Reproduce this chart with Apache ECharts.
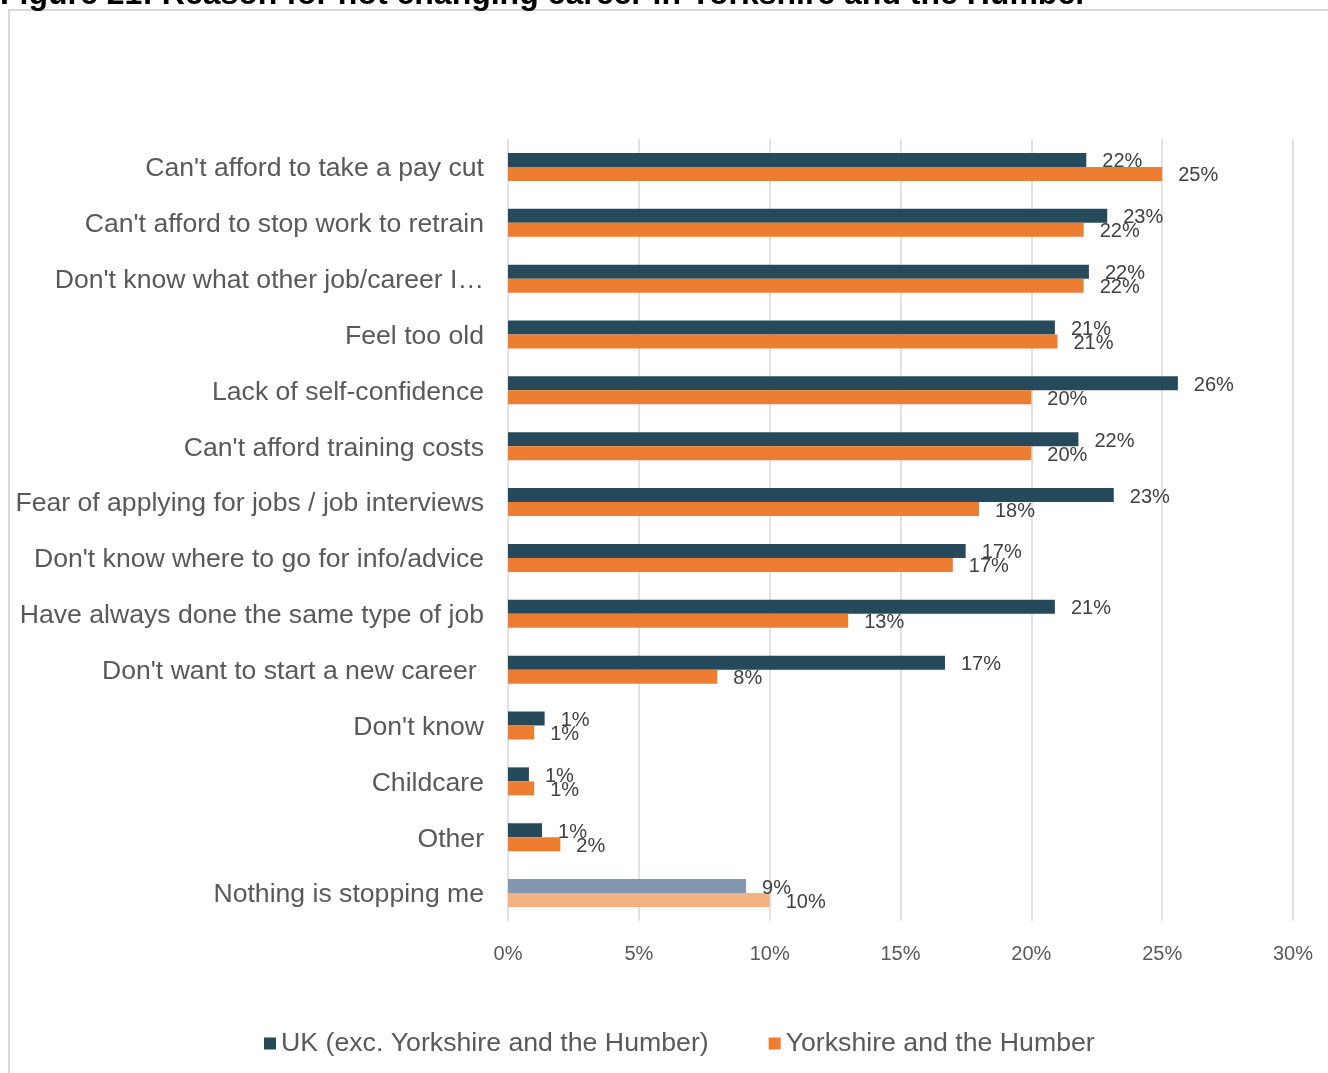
<!DOCTYPE html>
<html>
<head>
<meta charset="utf-8">
<script src="https://cdn.jsdelivr.net/npm/echarts@6/dist/echarts.min.js"></script>
<style>
html,body{margin:0;padding:0;background:#fff;}
#chart{width:1328px;height:1073px;}
</style>
</head>
<body>
<div id="chart"></div>
<script>
var titleText = 'Figure 21: Reason for not changing career in Yorkshire and the Humber';
var categories = [
  "Can't afford to take a pay cut",
  "Can't afford to stop work to retrain",
  "Don't know what other job/career I\u2026",
  "Feel too old",
  "Lack of self-confidence",
  "Can't afford training costs",
  "Fear of applying for jobs / job interviews",
  "Don't know where to go for info/advice",
  "Have always done the same type of job",
  "Don't want to start a new career ",
  "Don't know",
  "Childcare",
  "Other",
  "Nothing is stopping me"
];
var seriesNames = ['UK (exc. Yorkshire and the Humber)', 'Yorkshire and the Humber'];
var ukValues = [22.1, 22.9, 22.2, 20.9, 25.6, 21.8, 23.15, 17.49, 20.9, 16.7, 1.4, 0.8, 1.3, 9.1];
var yhValues = [25.0, 22.0, 22.0, 21.0, 20.0, 20.0, 18.0, 17.0, 13.0, 8.0, 1.0, 1.0, 2.0, 10.0];
var xTicks = [0, 5, 10, 15, 20, 25, 30];

var ukColor = '#264A59', yhColor = '#ED7D31';
var ukLight = '#8497B0', yhLight = '#F4B183';
var lastIdx = categories.length - 1;

function build(vals, light) {
  return vals.map(function (v, i) {
    return i === lastIdx ? {value: v, itemStyle: {color: light}} : v;
  });
}

var chart = echarts.init(document.getElementById('chart'));
var labelCfg = {
  show: true, position: 'right', distance: 16, offset: [0, 2],
  color: '#404040', fontSize: 20, fontFamily: 'Liberation Sans, Arial, sans-serif',
  formatter: function (p) { return Math.round(p.value) + '%'; }
};
chart.setOption({
  animation: false,
  textStyle: {fontFamily: 'Liberation Sans, Arial, sans-serif'},
  graphic: [
    {type: 'rect', shape: {x: 9, y: 10, width: 1340, height: 1080}, style: {fill: 'none', stroke: '#d9d9d9', lineWidth: 2}, silent: true, z: -1},
    {type: 'text', left: 0, top: -21, style: {text: titleText, fill: '#000', font: 'bold 32px "Liberation Sans", Arial, sans-serif'}}
  ],
  legend: {
    data: seriesNames,
    bottom: 11, left: 259,
    itemWidth: 12, itemHeight: 12, itemGap: 60, icon: 'rect',
    textStyle: {fontSize: 26.7, color: '#595959', fontFamily: 'Liberation Sans, Arial, sans-serif'}
  },
  grid: {left: 508, right: 35, top: 139, bottom: 152, containLabel: false},
  xAxis: {
    type: 'value', min: 0, max: 30, interval: 5,
    axisLine: {show: false}, axisTick: {show: false},
    splitLine: {lineStyle: {color: '#d9d9d9', width: 1.5}},
    axisLabel: {margin: 23, fontSize: 20, color: '#595959', formatter: function (v) { return xTicks.indexOf(v) >= 0 ? v + '%' : ''; }}
  },
  yAxis: {
    type: 'category', data: categories, inverse: true,
    axisLine: {show: false}, axisTick: {show: false},
    axisLabel: {margin: 24, fontSize: 26.6, color: '#595959', verticalAlign: 'top', lineHeight: 4}
  },
  series: [
    {name: seriesNames[0], type: 'bar', data: build(ukValues, ukLight), barWidth: 14, barGap: '0%', itemStyle: {color: ukColor}, label: labelCfg},
    {name: seriesNames[1], type: 'bar', data: build(yhValues, yhLight), barWidth: 14, barGap: '0%', itemStyle: {color: yhColor}, label: labelCfg}
  ]
});
</script>
</body>
</html>
